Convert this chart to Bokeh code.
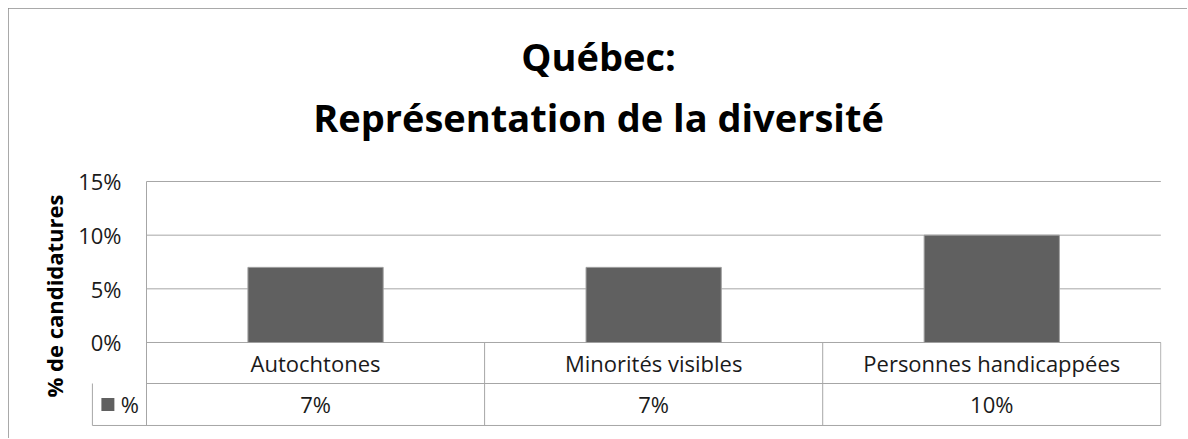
from bokeh.plotting import figure
from bokeh.models import Range1d, FixedTicker, NumeralTickFormatter, Title
from bokeh.core.properties import value
from bokeh.embed import file_html
from bokeh.resources import INLINE

# ---- data ----
categories = ["Autochtones", "Minorités visibles", "Personnes handicappées"]
values = [0.07, 0.07, 0.10]
value_labels = ["7%", "7%", "10%"]
y_ticks = [0, 0.05, 0.10, 0.15]
series_name = "%"
title_lines = ["Québec:", "Représentation de la diversité"]
y_label = "% de candidatures"

# ---- style ----
FONT = "Open Sans"
BAR = "#606060"
GRID = "#a6a6a6"
TXT = "#1a1a1a"

n = len(categories)
xc = [i + 0.5 for i in range(n)]
y_top = max(y_ticks)

# data-table rows (in y data units, below zero)
ROW1 = -0.0382
ROW2 = -0.0773
CELL_L = -0.16          # left edge of the legend cell of the data table

p = figure(width=1179, height=430, output_backend="svg", toolbar_location=None,
           x_range=Range1d(-0.3283, n + 0.002), y_range=Range1d(-0.07826, 0.1649),
           x_axis_location=None, title=None,
           min_border_left=27, min_border_right=26, min_border_top=157, min_border_bottom=12)
p.margin = (8, 0, 0, 8)
p.outline_line_color = None
p.background_fill_color = "white"
p.border_fill_color = "white"
p.styles = {"outline": "2px solid #8c8c8c", "outline-offset": "-2px"}

# y axis, drawn at x = 0 (left edge of the plot area)
ax = p.yaxis[0]
ax.fixed_location = 0
ax.ticker = FixedTicker(ticks=y_ticks)
ax.formatter = NumeralTickFormatter(format="0%")
ax.major_tick_line_color = None
ax.minor_tick_line_color = None
ax.major_tick_out = 0
ax.major_tick_in = 0
ax.major_label_standoff = 25
ax.axis_line_color = None
ax.major_label_text_font = FONT
ax.major_label_text_font_size = "22px"
ax.major_label_text_color = TXT
ax.axis_label = y_label
ax.axis_label_text_font = FONT
ax.axis_label_text_font_size = "22px"
ax.axis_label_text_font_style = "bold"
ax.axis_label_text_color = "black"
ax.axis_label_standoff = 6

p.xgrid.visible = False
p.ygrid.visible = False

# horizontal gridlines over the plot area only, and the vertical axis line
p.segment(x0=[0] * len(y_ticks), x1=[n] * len(y_ticks), y0=y_ticks, y1=y_ticks,
          line_color=GRID, line_width=1)
p.segment(x0=[0], x1=[0], y0=[y_top], y1=[ROW2], line_color=GRID, line_width=1)

# bars
p.vbar(x=xc, top=values, bottom=0, width=0.4, fill_color=BAR, line_color="#a0a0a0", line_width=1)

# data table lines
p.segment(x0=[0, CELL_L], x1=[n, n], y0=[ROW1, ROW2], y1=[ROW1, ROW2], line_color=GRID, line_width=1)
p.segment(x0=[CELL_L] + list(range(1, n + 1)), x1=[CELL_L] + list(range(1, n + 1)),
          y0=[ROW1] + [0] * n, y1=[ROW2] * (n + 1), line_color=GRID, line_width=1)

# category labels and values
p.text(x=xc, y=[ROW1 / 2] * n, text=categories, text_align="center", text_baseline="middle",
       text_font=value(FONT), text_font_size="22px", text_color=TXT)
ymid = (ROW1 + ROW2) / 2
p.text(x=xc, y=[ymid] * n, text=value_labels, text_align="center", text_baseline="middle",
       text_font=value(FONT), text_font_size="22px", text_color=TXT)

# legend cell: swatch + series name
p.quad(left=[CELL_L + 0.0266], right=[CELL_L + 0.065], top=[ymid + 0.006], bottom=[ymid - 0.006],
       fill_color=BAR, line_color=None)
p.text(x=[CELL_L + 0.111], y=[ymid], text=[series_name], text_align="center", text_baseline="middle",
       text_font=value(FONT), text_font_size="22px", text_color=TXT)

# two-line title (second line nearest the plot)
p.add_layout(Title(text=title_lines[1], align="center", text_font=FONT, text_font_size="38px",
                   text_font_style="bold", text_color="black", standoff=46), "above")
p.add_layout(Title(text=title_lines[0], align="center", text_font=FONT, text_font_size="38px",
                   text_font_style="bold", text_color="black", standoff=-33), "above")

open("out.html", "w").write(file_html(p, INLINE))
